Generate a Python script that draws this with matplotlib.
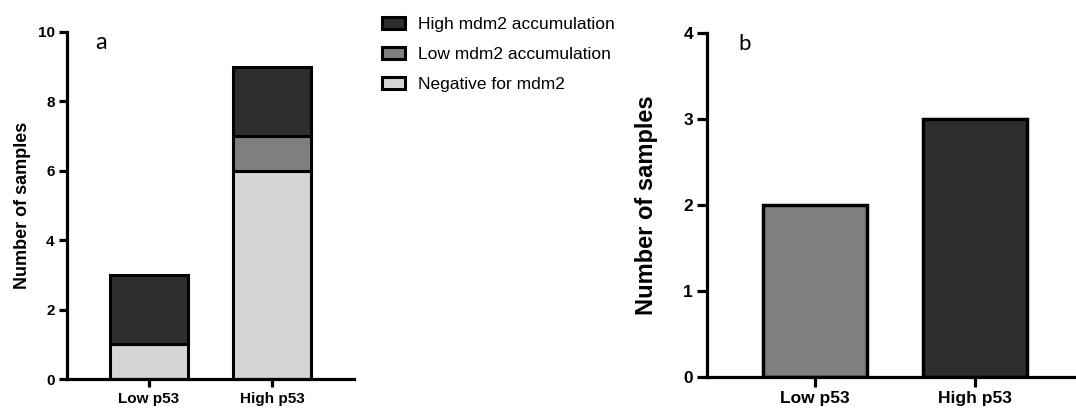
import numpy as np
import matplotlib.pyplot as plt

# panel a: mdm2 status within p53 groups (stacked counts)
groups = ['Low p53', 'High p53']
negative_mdm2 = [1, 6]
low_mdm2 = [0, 1]
high_mdm2 = [2, 2]

# panel b: sample counts per p53 group
counts_b = [2, 3]

DARK = '#2e2e30'
MID = '#7f7f81'
LIGHT = '#d5d5d7'

plt.rcParams['font.family'] = ['Liberation Sans', 'DejaVu Sans']

fig = plt.figure(figsize=(10.76, 4.15), dpi=100)
ax_a = fig.add_axes([0.0623, 0.0867, 0.2667, 0.8362])
ax_b = fig.add_axes([0.657, 0.0916, 0.343, 0.8289])


def style_axis(ax, fs_tick, tick_len):
    for side in ('top', 'right'):
        ax.spines[side].set_visible(False)
    for side in ('left', 'bottom'):
        ax.spines[side].set_linewidth(2.3)
    ax.tick_params(width=2.3, length=tick_len, labelsize=fs_tick, pad=3)
    for lab in ax.get_xticklabels() + ax.get_yticklabels():
        lab.set_fontweight('bold')


# ---- panel a ----
x = np.arange(len(groups))
w = 0.634
neg = np.array(negative_mdm2)
low = np.array(low_mdm2)
high = np.array(high_mdm2)
h_neg = ax_a.bar(x, neg, w, color=LIGHT, edgecolor='black', linewidth=2.2, label='Negative for mdm2')
h_low = ax_a.bar(x, low, w, bottom=neg, color=MID, edgecolor='black', linewidth=2.2,
                 label='Low mdm2 accumulation')
h_high = ax_a.bar(x, high, w, bottom=neg + low, color=DARK, edgecolor='black', linewidth=2.2,
                  label='High mdm2 accumulation')
ax_a.set_xlim(-0.667, 1.667)
ax_a.set_ylim(0, 10)
ax_a.set_yticks([0, 2, 4, 6, 8, 10])
ax_a.set_xticks(x)
ax_a.set_xticklabels(groups)
ax_a.set_ylabel('Number of samples', fontsize=13, fontweight='bold', labelpad=5)
style_axis(ax_a, 11, 6)
ax_a.text(0.10, 1.0, 'a', transform=ax_a.transAxes, fontsize=17, family='Lato',
          va='top', ha='left')

fig.legend(handles=[h_high, h_low, h_neg],
           labels=['High mdm2 accumulation', 'Low mdm2 accumulation', 'Negative for mdm2'],
           loc='upper left', bbox_to_anchor=(0.355, 0.959), frameon=False,
           borderpad=0, borderaxespad=0,
           fontsize=12.5, handlelength=1.32, handleheight=0.63, labelspacing=0.87,
           handletextpad=0.75)

# ---- panel b ----
xb = np.arange(len(groups))
ax_b.bar(xb, counts_b, 0.65, color=[MID, DARK], edgecolor='black', linewidth=2.5)
ax_b.set_xlim(-0.675, 1.63)
ax_b.set_ylim(0, 4)
ax_b.set_yticks([0, 1, 2, 3, 4])
ax_b.set_xticks(xb)
ax_b.set_xticklabels(groups)
ax_b.set_ylabel('Number of samples', fontsize=17, fontweight='bold', labelpad=18)
style_axis(ax_b, 12.5, 7)
ax_b.text(0.085, 0.997, 'b', transform=ax_b.transAxes, fontsize=16, family='Lato',
          va='top', ha='left')

fig.savefig('out.png', dpi=100)
